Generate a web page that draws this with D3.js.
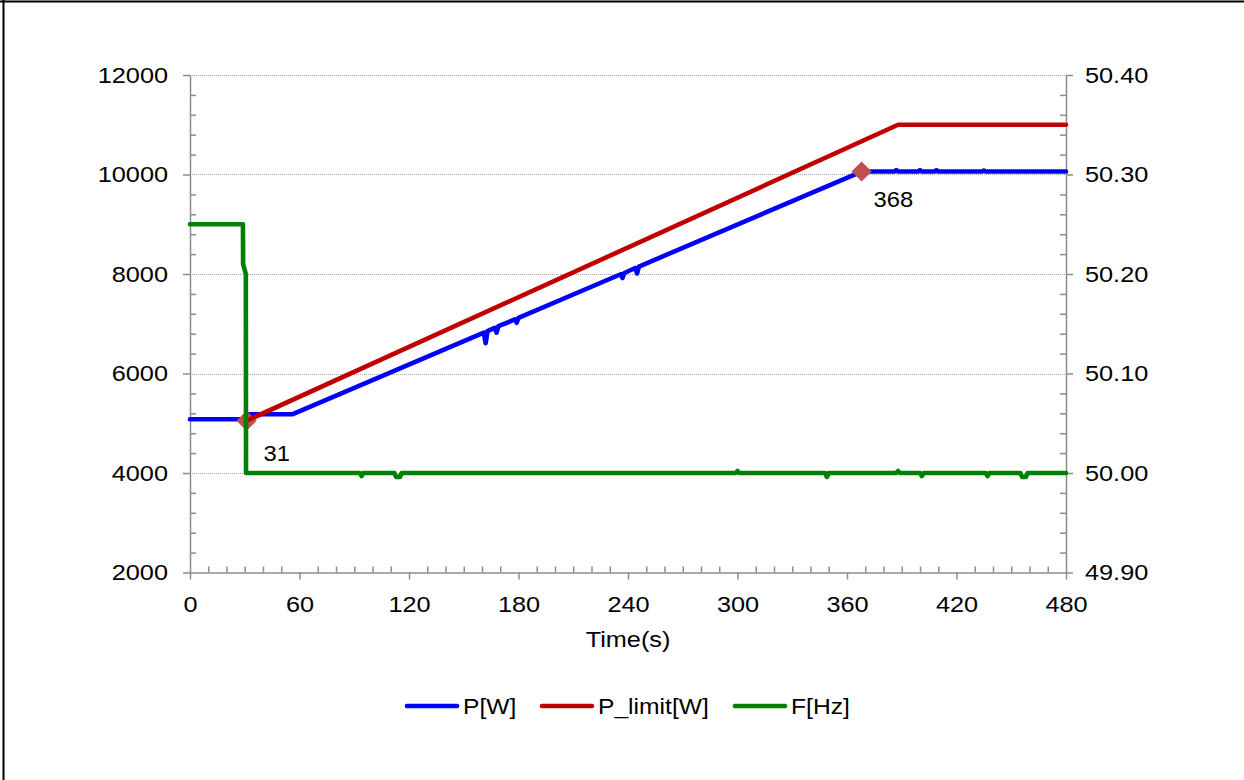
<!DOCTYPE html>
<html>
<head>
<meta charset="utf-8">
<script src="https://cdn.jsdelivr.net/npm/d3@7"></script>
<style>
  html, body { margin: 0; padding: 0; background: #fff; }
  svg { display: block; }
  text { font-family: "Liberation Sans", Arial, sans-serif; fill: #000; }
</style>
</head>
<body>
<svg id="chart" width="1244" height="780"></svg>
<script>
// Active power P[W]: time (s) and value
const pTime  = [0, 30, 31, 56, 161, 162, 163, 167, 168, 169, 178, 179, 180, 236, 237, 238, 244, 245, 246, 368, 386, 387, 388, 399, 400, 401, 408, 409, 410, 434, 435, 436, 480];
const pValue = [5080, 5080, 5180, 5180, 6822, 6610, 6850, 6916, 6820, 6950, 7088, 7020, 7120, 7995, 7920, 8020, 8120, 8010, 8150, 10060, 10060, 10090, 10060, 10060, 10090, 10060, 10060, 10085, 10060, 10060, 10080, 10060, 10060];

// Power limit P_limit[W]
const limitTime  = [31, 388, 480];
const limitValue = [5050, 11000, 11000];

// Grid frequency F[Hz]
const fTime  = [0, 29, 29.1, 30.6, 30.7, 93, 94, 95, 112, 113, 115, 116, 299, 300, 301, 348, 349, 350, 387, 388, 389, 400, 401, 402, 436, 437, 438, 455, 456, 458, 459, 480];
const fValue = [50.25, 50.25, 50.21, 50.20, 50.00, 50.00, 49.997, 50.00, 50.00, 49.996, 49.996, 50.00, 50.00, 50.002, 50.00, 50.00, 49.996, 50.00, 50.00, 50.002, 50.00, 50.00, 49.997, 50.00, 50.00, 49.997, 50.00, 50.00, 49.996, 49.996, 50.00, 50.00];

// Annotated points (time, power)
const markTime  = [31, 368];
const markValue = [5050, 10060];
const markLabel = ["31", "368"];

// Axis ticks
const xTicks  = [0, 60, 120, 180, 240, 300, 360, 420, 480];
const yLTicks = [2000, 4000, 6000, 8000, 10000, 12000];
const yRTicks = [49.9, 50.0, 50.1, 50.2, 50.3, 50.4];

const seriesNames  = ["P[W]", "P_limit[W]", "F[Hz]"];
const seriesColors = ["#0000ff", "#c00000", "#008000"];

const svg = d3.select("#chart");

const x  = d3.scaleLinear().domain([0, 480]).range([190, 1066]);
const yL = d3.scaleLinear().domain([2000, 12000]).range([572.5, 75]);
const yR = d3.scaleLinear().domain([49.9, 50.4]).range([572.5, 75]);

const FONT = 22;
const SX = 1.15;   // horizontal stretch of the chart text
const LINE_W = 4.6;

// outer frame (top and left edges)
svg.append("line").attr("x1", 0).attr("x2", 1244).attr("y1", 1.5).attr("y2", 1.5)
  .attr("stroke", "#000").attr("stroke-width", 2);
svg.append("line").attr("x1", 3.5).attr("x2", 3.5).attr("y1", 0).attr("y2", 780)
  .attr("stroke", "#000").attr("stroke-width", 2);

// dotted horizontal gridlines
svg.append("g").selectAll("line")
  .data(yLTicks.filter(d => d > 2000))
  .join("line")
  .attr("x1", x(0)).attr("x2", x(480))
  .attr("y1", d => Math.round(yL(d)) + 0.5).attr("y2", d => Math.round(yL(d)) + 0.5)
  .attr("stroke", "#a6a6a6").attr("stroke-width", 1).attr("stroke-dasharray", "1,1");

const axisColor = "#8c8c8c";

function styleAxis(g) {
  g.select(".domain").attr("stroke", axisColor).attr("stroke-width", 1.5);
  g.selectAll(".tick line").attr("stroke", axisColor).attr("stroke-width", 1.5);
  g.selectAll("text").attr("font-size", FONT).attr("font-family", "Liberation Sans, Arial, sans-serif").attr("fill", "#000");
}

// minor ticks (inside the plot)
const minorL = d3.range(2000, 12001, 400).filter(v => v % 2000 !== 0);
const minorR = d3.range(0, 26).map(i => 49.9 + i * 0.02).filter((v, i) => i % 5 !== 0);
const minorX = d3.range(0, 481, 10).filter(v => v % 60 !== 0);

svg.append("g").attr("transform", `translate(${x(0)},0)`)
  .call(d3.axisRight(yL).tickValues(minorL).tickSize(6).tickFormat(""))
  .call(g => { styleAxis(g); g.select(".domain").remove(); });
svg.append("g").attr("transform", `translate(${x(480)},0)`)
  .call(d3.axisLeft(yR).tickValues(minorR).tickSize(6).tickFormat(""))
  .call(g => { styleAxis(g); g.select(".domain").remove(); });
svg.append("g").attr("transform", `translate(0,${yL(2000)})`)
  .call(d3.axisTop(x).tickValues(minorX).tickSize(6).tickFormat(""))
  .call(g => { styleAxis(g); g.select(".domain").remove(); });

// left axis
svg.append("g").attr("transform", `translate(${x(0)},0)`)
  .call(d3.axisLeft(yL).tickValues(yLTicks).tickSize(7).tickSizeOuter(0).tickFormat(d3.format("d")))
  .call(styleAxis)
  .call(g => g.selectAll("text")
    .attr("x", 0).attr("dy", null).attr("y", 0)
    .attr("dominant-baseline", "central")
    .attr("text-anchor", "end")
    .attr("transform", `translate(-22,0) scale(${SX},1)`));

// right axis
svg.append("g").attr("transform", `translate(${x(480)},0)`)
  .call(d3.axisRight(yR).tickValues(yRTicks).tickSize(7).tickSizeOuter(0).tickFormat(d3.format(".2f")))
  .call(styleAxis)
  .call(g => g.selectAll("text")
    .attr("x", 0).attr("dy", null).attr("y", 0)
    .attr("dominant-baseline", "central")
    .attr("text-anchor", "start")
    .attr("transform", `translate(19,0) scale(${SX},1)`));

// bottom axis
svg.append("g").attr("transform", `translate(0,${yL(2000)})`)
  .call(d3.axisBottom(x).tickValues(xTicks).tickSize(7).tickSizeOuter(0).tickFormat(d3.format("d")))
  .call(styleAxis)
  .call(g => g.selectAll("text")
    .attr("x", 0).attr("dy", null).attr("y", 0)
    .attr("text-anchor", "middle")
    .attr("transform", `translate(0,39) scale(${SX},1)`));

// axis title
svg.append("text")
  .attr("text-anchor", "middle")
  .attr("font-size", FONT)
  .attr("transform", `translate(${x(240)},647) scale(${SX},1)`)
  .text("Time(s)");

// series lines
const lineP = d3.line().x((d, i) => x(pTime[i])).y(d => yL(d));
const lineLimit = d3.line().x((d, i) => x(limitTime[i])).y(d => yL(d));
const lineF = d3.line().x((d, i) => x(fTime[i])).y(d => yR(d));

svg.append("path").datum(pValue).attr("d", lineP)
  .attr("fill", "none").attr("stroke", seriesColors[0]).attr("stroke-width", LINE_W)
  .attr("stroke-linejoin", "round").attr("stroke-linecap", "round");

// diamond markers at the annotated points
const diamond = d3.symbol().type(d3.symbolDiamond2).size(260);
svg.append("g").selectAll("path")
  .data(markValue)
  .join("path")
  .attr("d", diamond)
  .attr("transform", (d, i) => `translate(${x(markTime[i])},${yL(d)})`)
  .attr("fill", "#c0504d");

svg.append("path").datum(limitValue).attr("d", lineLimit)
  .attr("fill", "none").attr("stroke", seriesColors[1]).attr("stroke-width", LINE_W)
  .attr("stroke-linejoin", "round").attr("stroke-linecap", "round");

svg.append("path").datum(fValue).attr("d", lineF)
  .attr("fill", "none").attr("stroke", seriesColors[2]).attr("stroke-width", LINE_W)
  .attr("stroke-linejoin", "round").attr("stroke-linecap", "round");

// point labels
const labelDx = [17, 12];
const labelDy = [40, 35];
svg.append("g").selectAll("text")
  .data(markLabel)
  .join("text")
  .attr("font-size", FONT)
  .attr("transform", (d, i) => `translate(${x(markTime[i]) + labelDx[i]},${yL(markValue[i]) + labelDy[i]}) scale(1.08,1)`)
  .text(d => d);

// legend
const legendX = [407, 542, 735];
const legend = svg.append("g").selectAll("g")
  .data(seriesNames)
  .join("g")
  .attr("transform", (d, i) => `translate(${legendX[i]},706)`);
legend.append("line")
  .attr("x1", 0).attr("x2", 50).attr("y1", 0).attr("y2", 0)
  .attr("stroke", (d, i) => seriesColors[i]).attr("stroke-width", LINE_W).attr("stroke-linecap", "round");
legend.append("text")
  .attr("font-size", FONT)
  .attr("transform", `translate(56,8) scale(1.12,1)`)
  .text(d => d);
</script>
</body>
</html>
